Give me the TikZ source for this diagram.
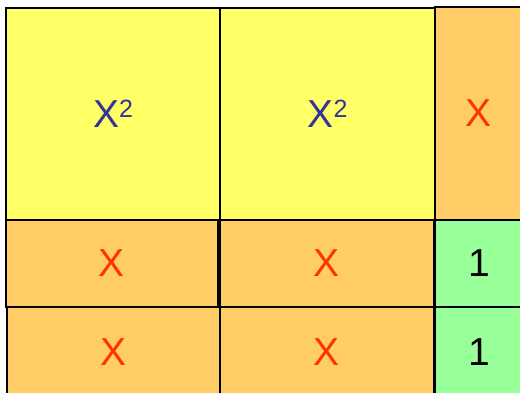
\documentclass[tikz,border=0pt]{standalone}
\usepackage{fontspec}
\setmainfont{Liberation Sans}
\definecolor{cyel}{HTML}{FFFF66}
\definecolor{corg}{HTML}{FFCC66}
\definecolor{cgrn}{HTML}{99FF99}
\definecolor{cred}{HTML}{FF3300}
\definecolor{cblu}{HTML}{333399}
\newcommand{\sq}{X{\fontsize{25}{25}\selectfont\raisebox{10pt}{2}}}
\tikzset{
  cell/.style={draw=black, line width=1.2pt, rectangle, inner sep=0pt, outer sep=0pt,
    font=\fontsize{39}{39}\selectfont},
  sqcell/.style={cell, fill=cyel, text=cblu},
  xcell/.style={cell, fill=corg, text=cred},
  onecell/.style={cell, fill=cgrn, text=black}
}
\begin{document}
\begin{tikzpicture}[x=1pt,y=-1pt]
\useasboundingbox (0,0) rectangle (520,393);
\fill[white] (0,0) rectangle (520,393);
\clip (0,0) rectangle (520,393);
\node[sqcell, minimum width=214pt, minimum height=212pt] (a1) at (113,114) {\sq};
\node[sqcell, minimum width=215pt, minimum height=212pt] (a2) at (327.5,114) {\sq};
\node[xcell, minimum width=88pt, minimum height=213pt] (a3) at (479,113.5) {X};
\node[xcell, minimum width=212pt, minimum height=87pt] (b1) at (112,263.5) {X};
\node[xcell, minimum width=214pt, minimum height=87pt] (b2) at (327,263.5) {X};
\node[onecell, minimum width=88pt, minimum height=87pt] (b3) at (479,263.5) {1};
\node[xcell, minimum width=213pt, minimum height=90pt] (c1) at (113.5,352) {X};
\node[xcell, minimum width=214pt, minimum height=90pt] (c2) at (327,352) {X};
\node[onecell, minimum width=88pt, minimum height=90pt] (c3) at (479,352) {1};
\end{tikzpicture}
\end{document}
